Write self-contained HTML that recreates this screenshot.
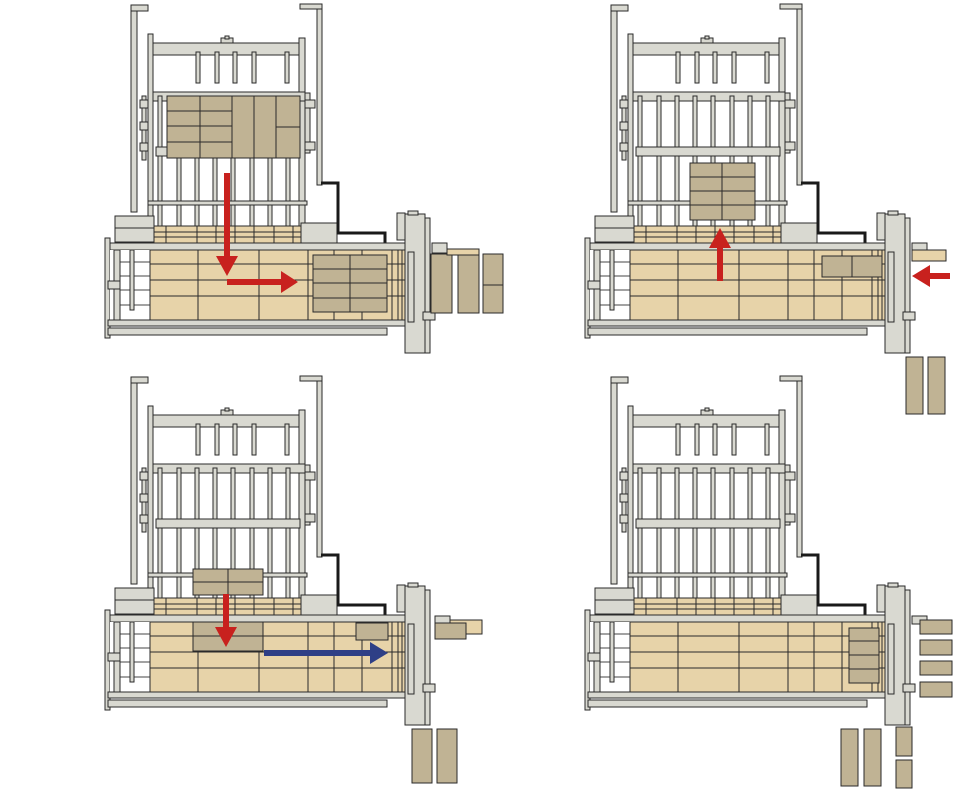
<!DOCTYPE html>
<html><head><meta charset="utf-8"><style>html,body{margin:0;padding:0;background:#fff}svg{display:block}</style></head><body>
<svg width="978" height="800" viewBox="0 0 978 800" xmlns="http://www.w3.org/2000/svg">
<defs>
<g id="m" stroke="#2a2a2a" stroke-width="1" fill="#d9d9d1">
  <!-- outer posts -->
  <rect x="131" y="5" width="6" height="207"/>
  <rect x="131" y="5" width="17" height="6"/>
  <rect x="317" y="4" width="5" height="181"/>
  <rect x="300" y="4" width="22" height="5"/>
  <!-- inner posts -->
  <rect x="148" y="34" width="5" height="194"/>
  <rect x="299" y="38" width="6" height="190"/>
  <!-- top beam -->
  <rect x="153" y="43" width="146" height="12"/>
  <rect x="221" y="38" width="12" height="5"/>
  <rect x="225" y="36" width="4" height="3"/>
  <rect x="196" y="52" width="4" height="31"/>
  <rect x="215" y="52" width="4" height="31"/>
  <rect x="233" y="52" width="4" height="31"/>
  <rect x="252" y="52" width="4" height="31"/>
  <rect x="285" y="52" width="4" height="31"/>
  <!-- second beam -->
  <rect x="153" y="92" width="152" height="9"/>
  <!-- vertical bars -->
  <rect x="158" y="96" width="4" height="130"/>
  <rect x="177" y="96" width="4" height="130"/>
  <rect x="195" y="96" width="4" height="130"/>
  <rect x="213" y="96" width="4" height="130"/>
  <rect x="231" y="96" width="4" height="130"/>
  <rect x="250" y="96" width="4" height="130"/>
  <rect x="268" y="96" width="4" height="130"/>
  <rect x="286" y="96" width="4" height="130"/>
  <!-- lower beam -->
  <rect x="156" y="147" width="144" height="9"/>
  <!-- side clamps -->
  <rect x="142" y="96" width="4" height="64"/>
  <rect x="140" y="100" width="8" height="8"/>
  <rect x="140" y="122" width="8" height="8"/>
  <rect x="140" y="143" width="8" height="8"/>
  <rect x="305" y="93" width="5" height="60"/>
  <rect x="305" y="100" width="10" height="8"/>
  <rect x="305" y="142" width="10" height="8"/>
  <!-- horizontal rod -->
  <rect x="148" y="201" width="159" height="4"/>
  <!-- upper pallet -->
  <rect x="154" y="226" width="148" height="17" fill="#e7d3a9"/>
  <path d="M154 232H302M154 237H302M166 226V243M197 226V243M216 226V243M235 226V243M254 226V243M274 226V243M293 226V243" fill="none"/>
  <!-- boxes -->
  <rect x="115" y="216" width="39" height="26"/>
  <path d="M115 228H154" fill="none"/>
  <rect x="301" y="223" width="36" height="20"/>
  <!-- cable -->
  <path d="M321 183H338V233H385V243" fill="none" stroke="#1a1a1a" stroke-width="3"/>
  <!-- table -->
  <rect x="105" y="238" width="5" height="100"/>
  <rect x="110" y="243" width="302" height="7"/>
  <rect x="110" y="250" width="40" height="70" fill="#fff" stroke="none"/>
  <path d="M120 262H150M120 276H150M120 290H150M120 305H150" fill="none" stroke="#444"/>
  <rect x="114" y="250" width="6" height="72"/>
  <rect x="108" y="281" width="12" height="8"/>
  <rect x="130" y="250" width="4" height="60"/>
  <rect x="150" y="250" width="256" height="70" fill="#e7d3a9"/>
  <path d="M150 264H406M150 280H406M150 296H406M198 250V320M259 250V320M308 250V320M334 250V320M362 250V320M392 250V320M398 250V320M402 250V320" fill="none"/>
  <rect x="108" y="320" width="298" height="6"/>
  <rect x="108" y="328" width="279" height="7"/>
  <!-- right column -->
  <rect x="397" y="213" width="8" height="27"/>
  <rect x="405" y="214" width="20" height="139"/>
  <rect x="408" y="211" width="10" height="4"/>
  <rect x="425" y="218" width="5" height="135"/>
  <rect x="408" y="252" width="6" height="70"/>
  <rect x="423" y="312" width="12" height="8"/>
</g>
<g id="a">
</g>
</defs>
<g fill="#c0b394" stroke="#2a2a2a" stroke-width="1">
<!-- TL -->
<use href="#m"/>
<rect x="167" y="96" width="133" height="62"/>
<path d="M200 96V158M232 96V158M254 96V158M276 96V158M167 111H232M167 126H232M167 142H232M276 127H300" fill="none"/>
<rect x="313" y="255" width="74" height="57"/>
<path d="M350 255V312M313 269H387M313 283H387M313 298H387" fill="none"/>
<rect x="431" y="254" width="21" height="59"/>
<rect x="458" y="254" width="21" height="59"/>
<rect x="483" y="254" width="20" height="59"/>
<path d="M483 285H503" fill="none"/>
<rect x="432" y="243" width="15" height="10" fill="#d9d9d1"/>
<rect x="447" y="249" width="32" height="6" fill="#e7d3a9"/>
<!-- TR -->
<use href="#m" transform="translate(480,0)"/>
<rect x="690" y="163" width="65" height="57"/>
<path d="M722 163V220M690 177H755M690 191H755M690 205H755" fill="none"/>
<rect x="822" y="256" width="60" height="21"/>
<path d="M852 256V277" fill="none"/>
<rect x="912" y="243" width="15" height="12" fill="#d9d9d1"/>
<rect x="912" y="250" width="34" height="11" fill="#e7d3a9"/>
<rect x="906" y="357" width="17" height="57"/>
<rect x="928" y="357" width="17" height="57"/>
<!-- BL -->
<use href="#m" transform="translate(0,372)"/>
<rect x="193" y="569" width="70" height="26"/>
<path d="M228 569V595M193 582H263" fill="none"/>
<rect x="193" y="622" width="70" height="29"/>
<path d="M193 636H263" fill="none"/>
<rect x="356" y="623" width="32" height="17"/>
<rect x="435" y="616" width="15" height="8" fill="#d9d9d1"/>
<rect x="450" y="620" width="32" height="14" fill="#e7d3a9"/>
<rect x="435" y="623" width="31" height="16"/>
<rect x="412" y="729" width="20" height="54"/>
<rect x="437" y="729" width="20" height="54"/>
<!-- BR -->
<use href="#m" transform="translate(480,372)"/>
<rect x="849" y="628" width="30" height="55"/>
<path d="M849 641H879M849 655H879M849 669H879" fill="none"/>
<rect x="912" y="616" width="15" height="8" fill="#d9d9d1"/>
<rect x="920" y="620" width="32" height="14"/>
<rect x="920" y="640" width="32" height="15"/>
<rect x="920" y="661" width="32" height="14"/>
<rect x="920" y="682" width="32" height="15"/>
<rect x="841" y="729" width="17" height="57"/>
<rect x="864" y="729" width="17" height="57"/>
<rect x="896" y="727" width="16" height="29"/>
<rect x="896" y="760" width="16" height="28"/>
</g>
<!-- arrows -->
<g fill="#c8211e">
<rect x="224" y="173" width="6" height="85"/>
<polygon points="216,256 238,256 227,276"/>
<rect x="227" y="279" width="56" height="6"/>
<polygon points="281,271 298,282 281,293"/>
<rect x="717" y="245" width="6" height="36"/>
<polygon points="709,248 731,248 720,228"/>
<rect x="928" y="273" width="22" height="6"/>
<polygon points="930,265 912,276 930,287"/>
<rect x="223" y="594" width="6" height="34"/>
<polygon points="215,627 237,627 226,647"/>
</g>
<g fill="#2e3f86">
<rect x="264" y="650" width="108" height="6"/>
<polygon points="370,642 388,653 370,664"/>
</g>
</svg>
</body></html>
